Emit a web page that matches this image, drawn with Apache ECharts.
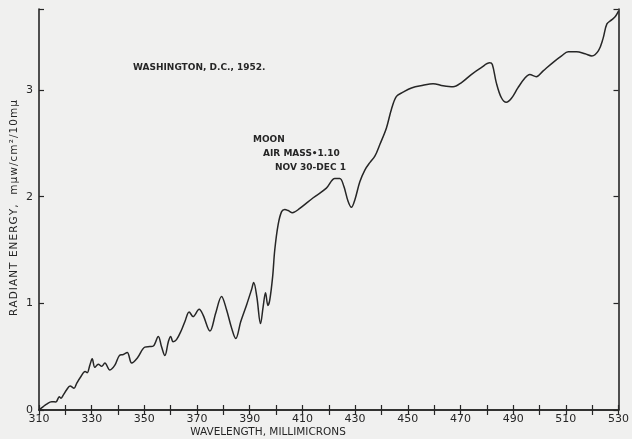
<!DOCTYPE html>
<html>
<head>
<meta charset="utf-8">
<script src="https://cdn.jsdelivr.net/npm/echarts@6/dist/echarts.min.js"></script>
<style>
  html, body { margin: 0; padding: 0; background: #f0f0ef; }
  #chart { width: 632px; height: 439px; }
</style>
</head>
<body>
<div id="chart"></div>
<script>
// Lunar spectral energy, Washington D.C., 1952 (wavelength in millimicrons)
const wavelength = [
  310.0, 311.5, 312.9, 314.8, 316.4, 317.7, 318.3, 319.2, 320.5, 321.8,
  323.3, 324.3, 325.8, 327.5, 328.3, 329.3, 330.2, 331.2, 332.5, 333.8,
  335.0, 336.9, 338.8, 340.5, 342.0, 343.5, 345.2, 347.4, 350.2, 352.1,
  353.4, 355.3, 356.5, 357.8, 359.1, 360.0, 360.9, 362.2, 364.1, 365.4,
  367.0, 368.5, 370.8, 372.3, 374.9, 377.1, 379.3, 381.2, 383.1, 384.7,
  386.6, 388.8, 390.7, 391.5, 392.7, 394.1, 395.1, 396.0, 396.9, 397.6,
  398.7, 399.5, 400.8, 402.1, 403.3, 404.6, 406.2, 409.0, 414.1, 419.1,
  422.3, 424.2, 425.7, 427.3, 428.6, 429.9, 431.8, 433.7, 435.6, 437.5,
  439.4, 441.9, 443.8, 445.7, 448.2, 451.4, 455.8, 459.6, 463.4, 467.2,
  470.4, 474.1, 477.9, 481.1, 482.1, 483.6, 485.5, 487.4, 489.3, 491.8,
  494.4, 496.3, 498.8, 501.4, 505.2, 508.4, 510.9, 514.1, 517.3, 519.9,
  522.4, 524.1, 525.6, 527.5, 528.8, 530.0
];
const radiantEnergy = [
  0.00, 0.03, 0.056, 0.078, 0.075, 0.125, 0.11, 0.14, 0.19, 0.225,
  0.204, 0.25, 0.31, 0.36, 0.35, 0.42, 0.48, 0.40, 0.43, 0.41,
  0.44, 0.375, 0.42, 0.51, 0.52, 0.54, 0.44, 0.49, 0.59, 0.595,
  0.60, 0.69, 0.595, 0.51, 0.64, 0.69, 0.64, 0.66, 0.75, 0.83,
  0.92, 0.876, 0.945, 0.89, 0.74, 0.91, 1.065, 0.94, 0.77, 0.67,
  0.83, 0.985, 1.13, 1.195, 1.06, 0.81, 0.97, 1.10, 0.98, 1.03,
  1.25, 1.50, 1.74, 1.86, 1.88, 1.87, 1.85, 1.89, 1.99, 2.08,
  2.17, 2.17, 2.10, 1.96, 1.90, 1.97, 2.14, 2.25, 2.32, 2.38,
  2.49, 2.645, 2.82, 2.94, 2.98, 3.02, 3.045, 3.06, 3.04, 3.03,
  3.07, 3.145, 3.21, 3.255, 3.24, 3.07, 2.93, 2.885, 2.92, 3.02,
  3.11, 3.145, 3.125, 3.18, 3.26, 3.32, 3.36, 3.36, 3.34, 3.32,
  3.37, 3.48, 3.62, 3.66, 3.69, 3.74
];
const xTickLabels = [310, 330, 350, 370, 390, 410, 430, 450, 470, 490, 510, 530];
const yTickLabels = [0, 1, 2, 3];

const ink = '#262626';
const font = '"DejaVu Sans", sans-serif';

// spread letters a little, like hand-lettered axis titles
const spaced = s => Array.from(s).join('\u200A');

const chart = echarts.init(document.getElementById('chart'));
const points = wavelength.map((w, i) => [w, radiantEnergy[i]]);

const axisLine = { show: true, lineStyle: { color: ink, width: 1.6 } };
const tick = { show: true, inside: true, length: 5, lineStyle: { color: ink, width: 1.2 } };

chart.setOption({
  backgroundColor: '#f0f0ef',
  animation: false,
  grid: { left: 39, right: 13, top: 9, bottom: 29 },
  xAxis: [
    {
      type: 'value', min: 310, max: 530, interval: 10,
      axisLine, axisTick: tick, splitLine: { show: false },
      axisLabel: {
        color: ink, fontFamily: font, fontSize: 11, margin: 4,
        formatter: v => xTickLabels.includes(v) ? String(v) : ''
      }
    },
    {
      type: 'value', position: 'top', min: 310, max: 530, interval: 10,
      axisLine, axisTick: tick, axisLabel: { show: false }, splitLine: { show: false }
    }
  ],
  yAxis: [
    {
      type: 'value', min: 0, max: 3.76, interval: 1,
      axisLine, axisTick: tick, splitLine: { show: false },
      axisLabel: {
        color: ink, fontFamily: font, fontSize: 11, margin: 6,
        formatter: v => yTickLabels.includes(v) ? String(v) : ''
      }
    },
    {
      type: 'value', position: 'right', min: 0, max: 3.76, interval: 1,
      axisLine, axisTick: tick, axisLabel: { show: false }, splitLine: { show: false }
    }
  ],
  series: [{
    type: 'line',
    data: points,
    smooth: 0.35,
    showSymbol: false,
    lineStyle: { color: ink, width: 1.5 }
  }],
  graphic: [
    {
      type: 'text', left: 133, top: 63,
      style: { text: 'WASHINGTON, D.C., 1952.', fill: ink, font: 'bold 9px ' + font }
    },
    {
      type: 'text', left: 253, top: 135,
      style: { text: 'MOON', fill: ink, font: 'bold 9px ' + font }
    },
    {
      type: 'text', left: 263, top: 149,
      style: { text: 'AIR MASS\u20221.10', fill: ink, font: 'bold 9px ' + font }
    },
    {
      type: 'text', left: 275, top: 163,
      style: { text: 'NOV 30-DEC 1', fill: ink, font: 'bold 9px ' + font }
    },
    {
      type: 'text', x: 268, y: 432,
      style: { text: 'WAVELENGTH, MILLIMICRONS', fill: ink, font: '10.5px ' + font,
               align: 'center', verticalAlign: 'middle' }
    },
    {
      type: 'text', x: 14, y: 208, rotation: Math.PI / 2,
      style: { text: spaced('RADIANT ENERGY,  m\u03bcw/cm\u00b2/10m\u03bc'), fill: ink,
               font: '10.5px ' + font, align: 'center', verticalAlign: 'middle' }
    }
  ]
});
</script>
</body>
</html>
